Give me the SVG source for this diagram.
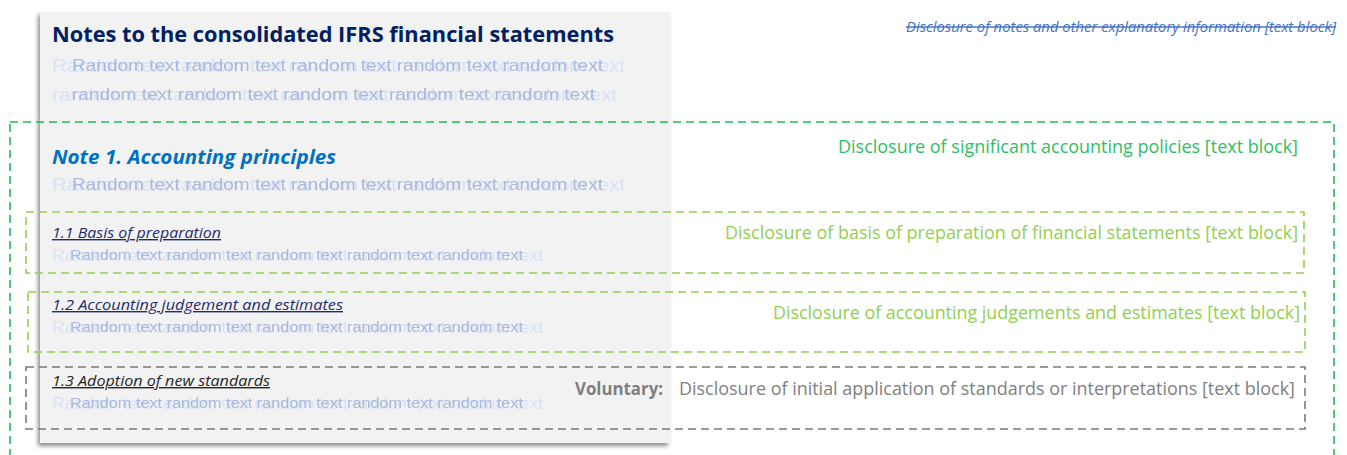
<svg xmlns="http://www.w3.org/2000/svg" width="1347" height="455" viewBox="0 0 1347 455">
<defs>
<filter id="shadow" x="-5%" y="-5%" width="110%" height="110%">
<feDropShadow dx="-2" dy="3" stdDeviation="2" flood-color="#000" flood-opacity="0.45"/>
</filter>
<style>
.page{fill:#f2f2f2;}
.title{font-family:"Open Sans","Noto Sans",sans-serif;font-weight:bold;fill:#002060;}
.note{font-family:"Open Sans","Noto Sans",sans-serif;font-weight:bold;font-style:italic;fill:#0070c0;}
.sub{font-family:"Open Sans","Noto Sans",sans-serif;font-style:italic;text-decoration:underline;}
.rl{font-family:"Liberation Sans",Arial,sans-serif;fill:#dbe3f4;}
.rd{font-family:"Liberation Sans",Arial,sans-serif;fill:#9eb0da;opacity:0.85;}
.lab{font-family:"Open Sans","Noto Sans",sans-serif;}
.box{fill:none;stroke-width:1.6;stroke-dasharray:8 5;}
</style>
</defs>

<g id="page">
<rect class="page" x="40" y="12" width="630" height="431" filter="url(#shadow)"/>
</g>

<g id="title">
<text class="title" x="52" y="42" font-size="22" textLength="562" lengthAdjust="spacingAndGlyphs">Notes to the consolidated IFRS financial statements</text>
<text class="rl" x="52" y="72" font-size="19" textLength="573" lengthAdjust="spacingAndGlyphs">Random text random text random text random text random text</text>
<text class="rd" x="72" y="71" font-size="17" textLength="531" lengthAdjust="spacingAndGlyphs">Random text random text random text random text random text</text>
<text class="rl" x="52" y="101" font-size="19" textLength="565" lengthAdjust="spacingAndGlyphs">random text random text random text random text random text</text>
<text class="rd" x="72" y="100" font-size="17" textLength="523" lengthAdjust="spacingAndGlyphs">random text random text random text random text random text</text>
</g>

<g id="top-label">
<text class="lab" x="1336" y="32" font-size="14.5" font-style="italic" fill="#4472c4" text-anchor="end" text-decoration="line-through" textLength="430" lengthAdjust="spacingAndGlyphs">Disclosure of notes and other explanatory information [text block]</text>
</g>

<g id="connectors">
<rect class="box" x="10" y="122" width="1324" height="345" stroke="#22bb55"/>
<rect class="box" x="26" y="212" width="1278" height="61" stroke="#92d050"/>
<rect class="box" x="28" y="292" width="1277" height="60" stroke="#92d050"/>
<rect class="box" x="26" y="367" width="1279" height="62" stroke="#7a7a7a"/>
</g>

<g id="note1">
<text class="lab" x="1298" y="153" font-size="18" fill="#2fc064" text-anchor="end" textLength="460" lengthAdjust="spacingAndGlyphs">Disclosure of significant accounting policies [text block]</text>
<text class="note" x="52" y="164" font-size="19" textLength="284" lengthAdjust="spacingAndGlyphs">Note 1. Accounting principles</text>
<text class="rl" x="52" y="191" font-size="19" textLength="573" lengthAdjust="spacingAndGlyphs">Random text random text random text random text random text</text>
<text class="rd" x="72" y="190" font-size="17" textLength="531" lengthAdjust="spacingAndGlyphs">Random text random text random text random text random text</text>
</g>

<g id="note1-1">
<text class="sub" x="52" y="238" font-size="14" fill="#1f2d6b" textLength="169" lengthAdjust="spacingAndGlyphs">1.1 Basis of preparation</text>
<text class="rl" x="52" y="261" font-size="16.5" textLength="491" lengthAdjust="spacingAndGlyphs">Random text random text random text random text random text</text>
<text class="rd" x="70" y="260" font-size="15" textLength="453" lengthAdjust="spacingAndGlyphs">Random text random text random text random text random text</text>
<text class="lab" x="1298" y="239" font-size="18" fill="#92d050" text-anchor="end" textLength="573" lengthAdjust="spacingAndGlyphs">Disclosure of basis of preparation of financial statements [text block]</text>
</g>

<g id="note1-2">
<text class="sub" x="52" y="310" font-size="14" fill="#1f2d6b" textLength="291" lengthAdjust="spacingAndGlyphs">1.2 Accounting judgement and estimates</text>
<text class="rl" x="52" y="333" font-size="16.5" textLength="491" lengthAdjust="spacingAndGlyphs">Random text random text random text random text random text</text>
<text class="rd" x="70" y="332" font-size="15" textLength="453" lengthAdjust="spacingAndGlyphs">Random text random text random text random text random text</text>
<text class="lab" x="1300" y="319" font-size="18" fill="#92d050" text-anchor="end" textLength="527" lengthAdjust="spacingAndGlyphs">Disclosure of accounting judgements and estimates [text block]</text>
</g>

<g id="note1-3">
<text class="sub" x="52" y="386" font-size="14" fill="#262626" textLength="218" lengthAdjust="spacingAndGlyphs">1.3 Adoption of new standards</text>
<text class="rl" x="52" y="409" font-size="16.5" textLength="491" lengthAdjust="spacingAndGlyphs">Random text random text random text random text random text</text>
<text class="rd" x="70" y="408" font-size="15" textLength="453" lengthAdjust="spacingAndGlyphs">Random text random text random text random text random text</text>
<text class="lab" x="575" y="395" font-size="17" font-weight="bold" fill="#7f7f7f" textLength="88" lengthAdjust="spacingAndGlyphs">Voluntary:</text>
<text class="lab" x="679" y="395" font-size="18" fill="#808080" textLength="616" lengthAdjust="spacingAndGlyphs">Disclosure of initial application of standards or interpretations [text block]</text>
</g>
</svg>
